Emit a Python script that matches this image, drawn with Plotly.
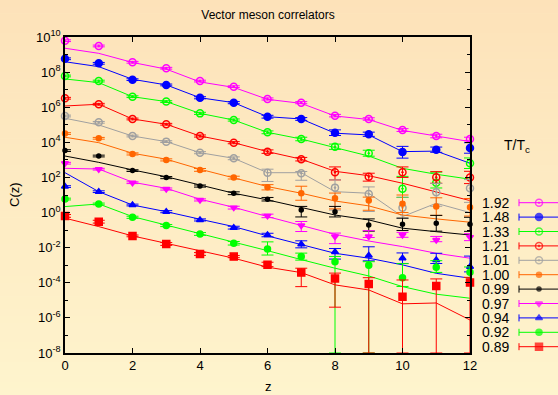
import plotly.graph_objects as go

# ---------------- data (log10 of C(z)) ----------------
z = list(range(13))
temps = ["1.92", "1.48", "1.33", "1.21", "1.01", "1.00", "0.99", "0.97", "0.94", "0.92", "0.89"]

pts_192 = [9.79, 9.49, 8.56, 8.22, 7.49, 7.17, 6.47, 6.26, 5.52, 5.33, 4.70, 4.36, 4.19]
fit_192 = [9.36, 9.07, 8.55, 8.17, 7.44, 7.13, 6.45, 6.22, 5.50, 5.30, 4.68, 4.36, 4.04]
pts_148 = [8.76, 8.50, 7.57, 7.27, 6.54, 6.26, 5.46, 5.33, 4.55, 4.46, 3.45, 3.58, 3.68]
fit_148 = [8.59, 8.31, 7.59, 7.27, 6.54, 6.26, 5.46, 5.33, 4.52, 4.42, 3.47, 3.50, 2.81]
pts_133 = [7.78, 7.49, 6.60, 6.32, 5.65, 5.27, 4.57, 4.19, 3.75, 3.38, 1.36, 1.70, 2.81]
fit_133 = [7.61, 7.40, 6.60, 6.32, 5.65, 5.27, 4.57, 4.19, 3.70, 3.22, 2.52, 2.18, 1.90]
pts_121 = [6.51, 6.17, 5.33, 5.03, 4.36, 3.98, 3.47, 3.04, 2.30, 2.04, 2.30, 2.01, 2.00]
fit_121 = [6.07, 6.17, 5.33, 5.03, 4.36, 3.98, 3.47, 3.04, 2.35, 2.10, 1.67, 1.19, 0.68]
pts_101 = [5.50, 5.14, 4.36, 4.04, 3.41, 3.09, 2.27, 2.24, 1.42, 1.06, 0.28, 1.16, 1.38]
fit_101 = [5.37, 4.99, 4.36, 4.04, 3.41, 3.09, 2.27, 2.27, 1.19, 1.10, -0.23, 0.53, 0.00]
pts_100 = [4.50, 4.23, 3.34, 3.00, 2.43, 1.99, 1.44, 1.10, 0.81, 0.68, 0.50, 0.34, 0.30]
fit_100 = [4.29, 3.98, 3.38, 3.04, 2.47, 1.99, 1.48, 1.10, 0.66, 0.38, -0.14, -0.36, -0.55]
pts_099 = [3.53, 3.22, 2.39, 1.99, 1.51, 1.10, 0.76, 0.15, 0.05, -0.71, -0.67, -0.61, -0.67]
fit_099 = [3.22, 2.86, 2.43, 2.04, 1.57, 1.10, 0.72, 0.30, -0.14, -0.42, -0.89, -1.09, -1.28]
pts_097 = [2.81, 2.47, 1.70, 1.34, 0.72, 0.28, -0.19, -0.74, -1.37, -1.37, -1.28, -1.56, -1.40]
fit_097 = [2.52, 2.48, 1.73, 1.38, 0.76, 0.30, -0.23, -0.74, -1.24, -1.62, -1.94, -2.32, -2.60]
pts_094 = [1.48, 1.19, 0.43, 0.05, -0.42, -0.86, -1.28, -1.81, -2.25, -2.45, -2.60, -2.70, -3.08]
fit_094 = [2.27, 1.19, 0.43, 0.05, -0.38, -0.80, -1.33, -1.84, -2.32, -2.60, -2.98, -3.46, -3.74]
pts_092 = [0.77, 0.49, -0.27, -0.74, -1.22, -1.75, -2.07, -2.51, -2.80, -3.00, -3.71, -3.11, -3.40]
fit_092 = [0.34, 0.49, -0.23, -0.71, -1.18, -1.66, -2.17, -2.68, -3.17, -3.61, -4.22, -4.65, -4.88]
pts_089 = [-0.19, -0.52, -1.33, -1.79, -2.36, -2.51, -2.98, -3.42, -3.76, -4.07, -4.79, -4.18, -3.99]
fit_089 = [-0.32, -0.80, -1.33, -1.75, -2.17, -2.60, -3.11, -3.42, -4.12, -4.41, -5.20, -5.15, -6.12]

# error bars, in decades (99 = reaches the bottom of the axis)
up_192 = [0.05, 0.05, 0.05, 0.05, 0.05, 0.05, 0.06, 0.06, 0.07, 0.07, 0.08, 0.10, 0.10]
dn_192 = [0.05, 0.05, 0.05, 0.05, 0.05, 0.05, 0.06, 0.06, 0.07, 0.07, 0.08, 0.10, 0.10]
up_148 = [0.05, 0.05, 0.05, 0.05, 0.06, 0.06, 0.08, 0.08, 0.16, 0.12, 0.32, 0.15, 0.30]
dn_148 = [0.05, 0.05, 0.05, 0.05, 0.06, 0.06, 0.08, 0.08, 0.16, 0.12, 0.35, 0.15, 0.30]
up_133 = [0.05, 0.05, 0.05, 0.05, 0.06, 0.06, 0.08, 0.10, 0.15, 0.17, 0.70, 0.60, 0.30]
dn_133 = [0.05, 0.05, 0.05, 0.05, 0.06, 0.06, 0.08, 0.10, 0.15, 0.17, 0.50, 0.30, 0.30]
up_121 = [0.05, 0.05, 0.05, 0.05, 0.06, 0.06, 0.10, 0.10, 0.30, 0.20, 0.30, 0.32, 0.35]
dn_121 = [0.05, 0.05, 0.05, 0.05, 0.06, 0.06, 0.10, 0.10, 0.44, 0.25, 0.30, 0.34, 0.35]
up_101 = [0.05, 0.05, 0.05, 0.05, 0.06, 0.08, 0.20, 0.10, 0.44, 0.40, 0.60, 0.50, 0.50]
dn_101 = [0.05, 0.05, 0.05, 0.05, 0.06, 0.08, 0.50, 0.40, 1.28, 1.00, 0.60, 0.80, 0.80]
up_100 = [0.05, 0.05, 0.06, 0.06, 0.08, 0.08, 0.15, 0.40, 0.30, 0.20, 0.50, 0.50, 0.50]
dn_100 = [0.05, 0.05, 0.06, 0.06, 0.08, 0.08, 0.15, 0.40, 0.60, 0.55, 0.50, 0.50, 0.50]
up_099 = [0.05, 0.05, 0.05, 0.06, 0.06, 0.08, 0.10, 0.20, 0.30, 0.35, 0.35, 0.45, 0.40]
dn_099 = [0.05, 0.05, 0.05, 0.06, 0.06, 0.08, 0.10, 0.40, 0.30, 0.35, 0.35, 0.45, 0.40]
up_097 = [0.05, 0.05, 0.05, 0.06, 0.06, 0.08, 0.10, 0.23, 0.20, 0.34, 0.15, 0.20, 0.20]
dn_097 = [0.05, 0.05, 0.05, 0.06, 0.06, 0.08, 0.10, 0.34, 0.40, 0.05, 0.13, 0.10, 0.20]
up_094 = [0.05, 0.05, 0.05, 0.06, 0.06, 0.08, 0.10, 0.20, 0.20, 0.50, 0.30, 0.38, 0.60]
dn_094 = [0.05, 0.05, 0.05, 0.06, 0.06, 0.08, 0.10, 0.20, 0.40, 0.30, 0.30, 0.20, 0.30]
up_092 = [0.05, 0.05, 0.06, 0.06, 0.08, 0.10, 0.40, 0.20, 0.30, 0.20, 0.80, 0.37, 0.30]
dn_092 = [0.05, 0.05, 0.06, 0.06, 0.08, 0.10, 0.35, 0.20, 99, 99, 0.50, 0.30, 0.30]
up_089 = [0.08, 0.08, 0.05, 0.08, 0.08, 0.06, 0.15, 0.25, 0.31, 0.36, 0.95, 0.40, 0.30]
dn_089 = [0.08, 0.08, 0.05, 0.08, 0.08, 0.06, 0.10, 0.80, 1.63, 99, 99, 99, 99]

x_ticks = [0, 2, 4, 6, 8, 10, 12]
y_tick_exp = [-8, -6, -4, -2, 0, 2, 4, 6, 8, 10]

# ---------------- styles ----------------
colors = ["#ff00ff", "#0000ff", "#00ff00", "#ff0000", "#a0a0a0", "#ff6600",
          "#000000", "#ff00ff", "#0000ff", "#00ff00", "#ff0000"]
symbols = ["circle-open-dot", "circle", "circle-open-dot", "circle-open-dot", "circle-open-dot",
           "circle", "circle", "triangle-down", "triangle-up", "circle", "square"]
msizes = [7, 7, 7, 7, 7, 5, 4, 6, 6, 6, 7]

series = [
    (pts_192, fit_192, up_192, dn_192),
    (pts_148, fit_148, up_148, dn_148),
    (pts_133, fit_133, up_133, dn_133),
    (pts_121, fit_121, up_121, dn_121),
    (pts_101, fit_101, up_101, dn_101),
    (pts_100, fit_100, up_100, dn_100),
    (pts_099, fit_099, up_099, dn_099),
    (pts_097, fit_097, up_097, dn_097),
    (pts_094, fit_094, up_094, dn_094),
    (pts_092, fit_092, up_092, dn_092),
    (pts_089, fit_089, up_089, dn_089),
]

W, H = 558, 395
L, R, T, B = 65, 470, 37, 353
YMIN_EXP, YMAX_EXP = -8, 10
FONT = "Liberation Sans, Arial, sans-serif"

fig = go.Figure()

for i, (pts, fit, up, dn) in enumerate(series):
    col = colors[i]
    yv = [10 ** p for p in pts]
    fv = [10 ** f for f in fit]
    plus = [y * (10 ** u - 1) for y, u in zip(yv, up)]
    minus = [y - max(y / 10 ** d, 10 ** YMIN_EXP) for y, d in zip(yv, dn)]
    fig.add_trace(go.Scatter(x=z, y=fv, mode="lines", line=dict(color=col, width=1),
                             showlegend=False, hoverinfo="skip"))
    fig.add_trace(go.Scatter(
        x=z, y=yv, mode="markers", name=temps[i], showlegend=False, cliponaxis=False,
        marker=dict(symbol=symbols[i], size=msizes[i], color=col,
                    line=dict(color=col, width=1.5)),
        error_y=dict(type="data", symmetric=False, array=plus, arrayminus=minus,
                     color=col, thickness=1, width=6)))

# ---------------- manual gnuplot-style key on the right ----------------
key_y0, key_dy = 202.7, 14.4
key_y = [key_y0 + k * key_dy for k in range(len(temps))]
fig.add_trace(go.Scatter(
    x=[539] * len(temps), y=key_y, mode="markers", xaxis="x2", yaxis="y2",
    showlegend=False, hoverinfo="skip", cliponaxis=False,
    marker=dict(symbol=symbols, size=msizes, color=colors,
                line=dict(color=colors, width=1.5))))

shapes = []
# background gradient
nb = 60
top_c, bot_c = (253, 226, 185), (254, 244, 205)
for k in range(nb):
    py0 = H * k / nb
    py1 = H * (k + 1) / nb + 0.6
    t = (k + 0.5) / nb
    c = tuple(round(top_c[j] + (bot_c[j] - top_c[j]) * t) for j in range(3))
    shapes.append(dict(type="rect", xref="paper", yref="paper", layer="below",
                       x0=-0.2, x1=1.1, y0=(B - py1) / (B - T), y1=(B - py0) / (B - T),
                       line=dict(width=0), fillcolor="rgb(%d,%d,%d)" % c))
annotations = []
for k, yk in enumerate(key_y):
    shapes.append(dict(type="line", xref="x2", yref="y2", x0=519, x1=560, y0=yk, y1=yk,
                       line=dict(color=colors[k], width=1)))
    shapes.append(dict(type="line", xref="x2", yref="y2", x0=519, x1=519, y0=yk - 3.5,
                       y1=yk + 3.5, line=dict(color=colors[k], width=1)))
    annotations.append(dict(xref="x2", yref="y2", x=511, y=yk, text=temps[k],
                            xanchor="right", yanchor="middle", showarrow=False,
                            font=dict(size=14, color="black", family=FONT)))
annotations.append(dict(xref="x2", yref="y2", x=517, y=146, text="T/T<sub>c</sub>",
                        xanchor="center", yanchor="middle", showarrow=False,
                        font=dict(size=14, color="black", family=FONT)))
PW = W - L
annotations.append(dict(xref="paper", yref="paper", x=(14 - L) / PW, y=0.5, text="C(z)",
                        textangle=-90, showarrow=False, xanchor="center", yanchor="middle",
                        font=dict(size=13, color="black", family=FONT)))
annotations.append(dict(xref="paper", yref="paper", x=(268 - L) / PW, y=(B - 387) / (B - T),
                        text="z", showarrow=False, xanchor="center", yanchor="middle",
                        font=dict(size=13, color="black", family=FONT)))

ytext = ["10<sup>%d</sup>" % e for e in y_tick_exp]
yvals = [10 ** e for e in y_tick_exp]
yminor = [10 ** e for e in range(YMIN_EXP, YMAX_EXP + 1) if e % 2 != 0]

fig.update_layout(
    template="none",
    width=W, height=H,
    margin=dict(l=L, r=0, t=T, b=H - B, pad=0, autoexpand=False),
    paper_bgcolor="rgb(254,244,205)", plot_bgcolor="rgba(0,0,0,0)",
    title=dict(text="Vector meson correlators", x=268 / W, xref="container",
               y=1 - 15 / H, yref="container", xanchor="center", yanchor="middle",
               font=dict(size=12, color="black", family=FONT)),
    showlegend=False,
    shapes=shapes, annotations=annotations,
    xaxis=dict(domain=[0, (R - L) / PW], range=[0, 12], tickvals=x_ticks,
               ticks="inside", ticklen=5, tickwidth=1, tickcolor="black",
               showline=True, linecolor="black", linewidth=1.5, mirror="ticks",
               showgrid=False, zeroline=False, automargin=False,
               tickfont=dict(size=13, color="black", family=FONT)),
    yaxis=dict(type="log", range=[YMIN_EXP, YMAX_EXP], tickvals=yvals, ticktext=ytext,
               ticks="inside", ticklen=5, tickwidth=1, tickcolor="black",
               minor=dict(tickvals=yminor, ticks="inside", ticklen=3, tickcolor="black"),
               showline=True, linecolor="black", linewidth=1.5, mirror="ticks",
               showgrid=False, zeroline=False, automargin=False,
               tickfont=dict(size=13, color="black", family=FONT)),
    xaxis2=dict(domain=[(R - L) / PW, 1], range=[R, W], anchor="y2", visible=False,
                fixedrange=True, automargin=False),
    yaxis2=dict(domain=[0, 1], range=[B, T], anchor="x2", visible=False, fixedrange=True,
                automargin=False),
)

fig.write_html("out.html", config={"displayModeBar": False},
               post_script="document.body.style.margin='0';document.body.style.overflow='hidden';")
